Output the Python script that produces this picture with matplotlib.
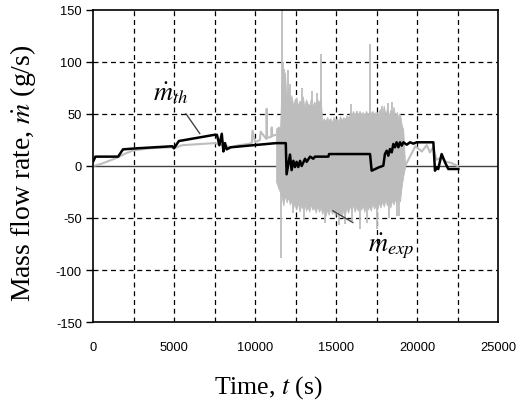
import matplotlib
matplotlib.use("Agg")
import matplotlib.pyplot as plt
import numpy as np

plt.rcParams["mathtext.fontset"] = "stix"

# ---- Data ----
# theoretical mass flow rate (black line)
th_t = [0, 150, 1550, 1850, 2700, 4900, 5000, 5300, 7500, 7650, 7800, 7950, 8050, 8150, 8250, 8500,
        11300, 11900, 11950, 12160, 12260, 12370, 12470, 12570, 12670, 12780, 12880, 13090, 13190,
        13400, 13600, 13700, 14530, 14570, 17100, 17200, 17410, 17610, 17920, 18020, 18130, 18230,
        18330, 18440, 18540, 18640, 18740, 18850, 18950, 19060, 19160, 19370, 19570, 19780, 19980,
        21010, 21110, 21210, 21310, 21520, 21730, 21930, 22550]
th_v = [4, 9, 9, 16, 17, 19, 17, 24, 30, 30, 20, 31, 14, 22, 16, 18,
        22, 22, -8, 11, -4, 5, -1, 4, -1, 5, 0, 7, 4,
        9, 7, 9, 9, 11.5, 11.5, -4.5, -3, -1.5, 0.3, 11.5, 14.7, 9.9,
        16.3, 13.1, 21.2, 18, 22.8, 18, 22.8, 19.6, 22.8, 20.5, 22.8, 21.5, 22.8,
        22.8, -4.5, -1.3, -3, 11.5, 3.5, -2.9, -2.9]

# experimental mass flow rate (grey), calm parts
exp_t1 = [0, 500, 1000, 1500, 2000, 2500, 3500, 4800, 5000, 5500, 6500, 7500, 8000, 8500, 9000,
          9500, 9800, 9850, 10000, 10300, 10350, 10700, 10720, 10750, 11000, 11030, 11060, 11300]
exp_v1 = [0, 2, 5, 8, 12, 15, 17, 18, 17, 20, 21, 22, 20, 18, 20,
          21, 22, 34, 23, 25, 33, 26, 55, 27, 28, 37, 29, 30]
exp_t2 = [19250, 19400, 19900, 20300, 20600, 20800, 21000, 21200, 21500, 21800, 22100, 22500]
exp_v2 = [0, 4, 19, 14, 20, 13, 18, 6, 8, 4, 3, 0]

# noisy band of the experimental signal (upper / lower envelopes)
band_t = [11300, 11450, 11550, 11650, 11750, 11850, 11950, 12050, 12150, 12250, 12350, 12450,
          12550, 12650, 12750, 12850, 12950, 13050, 13150, 13250, 13350, 13450, 13550, 13650,
          13750, 13850, 13950, 14050, 14150, 14250, 14350, 14450, 14550, 14650, 14750, 14850,
          14950, 15050, 15150, 15250, 15350, 15450, 15550, 15650, 15750, 15850, 15950, 16050,
          16150, 16250, 16350, 16450, 16550, 16650, 16750, 16850, 16950, 17050, 17150, 17250,
          17350, 17450, 17550, 17650, 17750, 17850, 17950, 18050, 18150, 18250, 18350, 18450,
          18550, 18650, 18750, 18850, 18950, 19050, 19150, 19250]
band_hi = [36, 38, 37, 84, 70, 90, 62, 75, 60, 68, 58, 64,
           66, 58, 63, 60, 67, 57, 64, 60, 58, 65, 57, 62,
           59, 64, 61, 66, 43, 46, 43, 47, 44, 46, 42, 47,
           44, 46, 43, 48, 44, 47, 45, 49, 46, 51, 49, 53,
           50, 52, 49, 53, 50, 52, 48, 53, 50, 52, 51, 53,
           50, 52, 49, 53, 55, 50, 58, 49, 56, 48, 54, 50,
           57, 48, 52, 47, 50, 40, 35, 5]
band_lo = [-15, -22, -25, -30, -38, -28, -35, -30, -37, -33, -40, -36,
           -42, -35, -44, -38, -41, -36, -43, -39, -44, -37, -42, -40,
           -45, -38, -44, -40, -46, -41, -48, -42, -47, -40, -46, -43,
           -48, -41, -47, -44, -49, -42, -47, -40, -45, -38, -43, -37,
           -44, -39, -43, -36, -42, -38, -44, -37, -42, -39, -43, -36,
           -41, -38, -42, -35, -40, -34, -39, -33, -38, -35, -40, -33,
           -37, -32, -36, -30, -34, -20, -10, -2]

# spikes of the experimental signal
spike_up_t = [11650, 11700, 11810, 12060, 12160, 12900, 13500, 13800, 14070, 15900, 16280, 17100,
              17820, 18230, 18450]
spike_up_v = [150, 100, 93, 92, 79, 75, 72, 70, 108, 60, 53, 117, 58, 61, 62]
spike_dn_t = [11580, 12370, 13000, 14300, 15200, 15560, 16000, 16480, 16900, 17510, 18300, 18750,
              18900]
spike_dn_v = [-88, -45, -52, -55, -57, -56, -53, -61, -55, -61, -50, -48, -48]

x_ticks = [0, 5000, 10000, 15000, 20000, 25000]
y_ticks = [-150, -100, -50, 0, 50, 100, 150]

# ---- Figure ----
fig = plt.figure(figsize=(5.21, 4.14), dpi=100)
ax = fig.add_axes([93/521, 1 - 323/414, (498-93)/521, (323-11)/414])

grey = "#bdbdbd"
# grid
for xv in np.arange(2500, 25000, 2500):
    ax.axvline(xv, color="black", lw=0.9, ls=(0, (4, 3)), zorder=1)
for yv in [-100, -50, 50, 100]:
    ax.axhline(yv, color="black", lw=0.9, ls=(0, (4, 3)), zorder=1)
ax.axhline(0, color="#404040", lw=1.0, zorder=1)

# experimental
ax.plot(exp_t1, exp_v1, color=grey, lw=1.5, zorder=2)
ax.plot(exp_t2, exp_v2, color=grey, lw=1.5, zorder=2)
ax.fill_between(band_t, band_lo, band_hi, color=grey, lw=0.6, zorder=2)
ax.vlines(spike_up_t, 0, spike_up_v, color=grey, lw=1.3, zorder=2)
ax.vlines(spike_dn_t, 0, spike_dn_v, color=grey, lw=1.3, zorder=2)

# theoretical
ax.plot(th_t, th_v, color="black", lw=1.8, zorder=3)

ax.set_xlim(0, 25000)
ax.set_ylim(-150, 150)
ax.set_xticks(x_ticks)
ax.set_yticks(y_ticks)
tickfont = dict(family="Liberation Sans", size=9.3)
ax.set_xticklabels([str(v) for v in x_ticks], **tickfont)
ax.set_yticklabels([str(v) for v in y_ticks], **tickfont)
ax.tick_params(axis="x", length=0, pad=14)
ax.tick_params(axis="y", length=5, width=1, direction="out", pad=3)
for s in ax.spines.values():
    s.set_linewidth(1.2)

ax.set_ylabel(r"Mass flow rate, $\dot{m}$ (g/s)", family="Liberation Serif", size=20)
ax.yaxis.set_label_coords(-0.135, 0.48)
ax.set_xlabel(r"Time, $t$ (s)", family="Liberation Serif", size=18.5)
ax.xaxis.set_label_coords(0.432, -0.165)

# annotations
ax.annotate(r"$\dot{m}_{th}$", xy=(6600, 31), xytext=(4810, 71), ha="center", va="center",
            fontsize=19, arrowprops=dict(arrowstyle="-", color="#444444", lw=1.0,
                                         shrinkA=5, shrinkB=0), zorder=4)
ax.annotate(r"$\dot{m}_{exp}$", xy=(14800, -43), xytext=(18400, -76), ha="center", va="center",
            fontsize=19, arrowprops=dict(arrowstyle="-", color="#444444", lw=1.0,
                                         shrinkA=10, shrinkB=0), zorder=4)

fig.savefig("out.png", dpi=100)
